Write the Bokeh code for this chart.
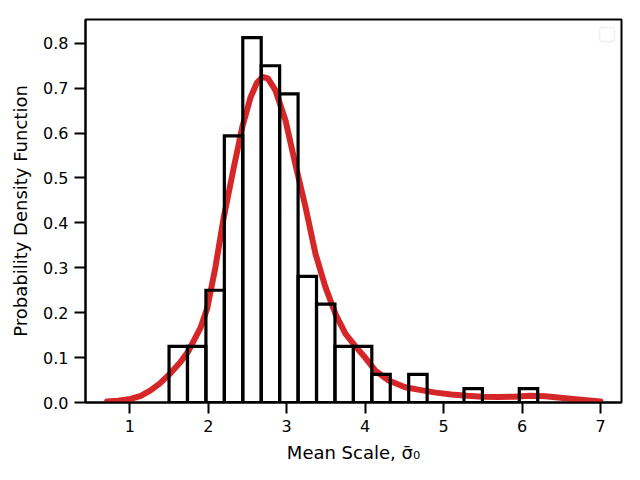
from bokeh.plotting import figure
from bokeh.models import FixedTicker, PrintfTickFormatter, BoxAnnotation, Range1d
from bokeh.embed import file_html
from bokeh.resources import INLINE

# Histogram (density)
bin_left = [1.5, 1.735, 1.97, 2.205, 2.44, 2.675, 2.91, 3.145, 3.38, 3.615,
            3.85, 4.085, 4.32, 4.555, 4.79, 5.025, 5.26, 5.495, 5.73, 5.965]
bin_right = [1.735, 1.97, 2.205, 2.44, 2.675, 2.91, 3.145, 3.38, 3.615, 3.85,
             4.085, 4.32, 4.555, 4.79, 5.025, 5.26, 5.495, 5.73, 5.965, 6.2]
density = [0.125, 0.125, 0.25, 0.594, 0.8125, 0.75, 0.6875, 0.281, 0.219, 0.125,
           0.125, 0.0625, 0.0, 0.0625, 0.0, 0.0, 0.031, 0.0, 0.0, 0.031]

# KDE curve
kde_x = [0.71, 0.85, 1.01, 1.14, 1.264, 1.38, 1.50, 1.646, 1.752, 1.90, 1.987,
         2.09, 2.198, 2.326, 2.433, 2.54, 2.62, 2.69, 2.76, 2.857, 2.985,
         3.11, 3.24, 3.367, 3.494, 3.622, 3.75, 3.877, 4.005, 4.13, 4.30,
         4.51, 4.73, 4.9, 5.1, 5.3, 5.5, 5.7, 5.9, 6.1, 6.3, 6.52, 6.75, 7.0]
kde_y = [0.002, 0.004, 0.008, 0.015, 0.027, 0.042, 0.062, 0.09, 0.116, 0.166,
         0.21, 0.30, 0.413, 0.524, 0.613, 0.68, 0.712, 0.725, 0.722, 0.695,
         0.628, 0.531, 0.435, 0.331, 0.257, 0.197, 0.153, 0.125, 0.099,
         0.071, 0.049, 0.034, 0.027, 0.022, 0.018, 0.015, 0.013, 0.012,
         0.013, 0.015, 0.014, 0.010, 0.006, 0.002]

x_ticks = [1, 2, 3, 4, 5, 6, 7]
y_ticks = [0.0, 0.1, 0.2, 0.3, 0.4, 0.5, 0.6, 0.7, 0.8]

p = figure(width=640, height=480, output_backend="svg", toolbar_location=None,
           x_range=Range1d(0.435, 7.268), y_range=Range1d(0.0, 0.853),
           min_border_left=85, min_border_right=19, min_border_top=19,
           min_border_bottom=78)
p.background_fill_color = "white"
p.border_fill_color = "white"
p.grid.visible = False
p.outline_line_color = "black"
p.outline_line_width = 2

p.line(kde_x, kde_y, line_color="#d62728", line_width=6, line_cap="round",
       line_join="round")
p.quad(left=bin_left, right=bin_right, bottom=0, top=density,
       fill_alpha=0, line_color="black", line_width=3.2, line_join="miter")

for ax in (p.xaxis[0], p.yaxis[0]):
    ax.axis_line_width = 2
    ax.axis_line_color = "black"
    ax.major_tick_out = 11
    ax.major_tick_in = 0
    ax.major_tick_line_width = 2
    ax.major_tick_line_color = "black"
    ax.minor_tick_line_color = None
    ax.major_label_text_font = "DejaVu Sans"
    ax.major_label_text_font_size = "16px"
    ax.major_label_text_color = "black"
    ax.axis_label_text_font = "DejaVu Sans"
    ax.axis_label_text_font_size = "18px"
    ax.axis_label_text_font_style = "normal"
    ax.axis_label_text_color = "black"
    ax.major_label_standoff = 6

p.xaxis[0].ticker = FixedTicker(ticks=x_ticks)
p.xaxis[0].formatter = PrintfTickFormatter(format="%d")
p.yaxis[0].ticker = FixedTicker(ticks=y_ticks)
p.yaxis[0].formatter = PrintfTickFormatter(format="%.1f")
p.xaxis[0].axis_label = "Mean Scale, \u03c3\u0304\u2080"
p.yaxis[0].axis_label = "Probability Density Function"
p.xaxis[0].axis_label_standoff = 7
p.yaxis[0].axis_label_standoff = 9

# empty legend frame in the top-right corner
legend_box = BoxAnnotation(left=599, right=614, top=27, bottom=41,
                           left_units="canvas", right_units="canvas",
                           top_units="canvas", bottom_units="canvas",
                           fill_color="white", fill_alpha=1.0,
                           line_color="#cccccc", line_width=1.5,
                           border_radius=3)
p.add_layout(legend_box)

open("out.html", "w").write(file_html(p, INLINE))
